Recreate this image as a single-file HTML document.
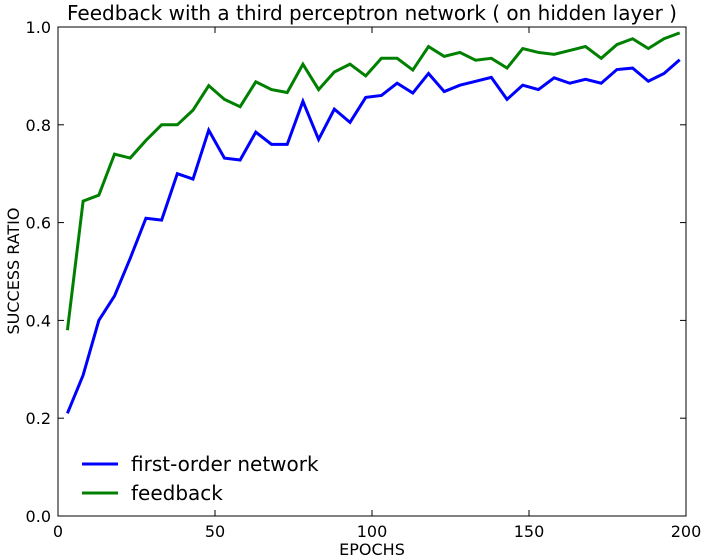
<!DOCTYPE html>
<html><head><meta charset="utf-8"><style>
body{margin:0;background:#fff;}
svg{display:block;font-family:"DejaVu Sans","Liberation Sans",sans-serif;}
</style></head><body>
<svg id="chart" width="701" height="559"></svg>
<script>
const epochs=[3,8,13,18,23,28,33,38,43,48,53,58,63,68,73,78,83,88,93,98,103,108,113,118,123,128,133,138,143,148,153,158,163,168,173,178,183,188,193,198];
const firstOrder=[0.21,0.288,0.40,0.45,0.527,0.609,0.605,0.70,0.689,0.789,0.732,0.728,0.785,0.76,0.76,0.848,0.77,0.832,0.805,0.856,0.86,0.885,0.865,0.905,0.868,0.881,0.889,0.897,0.852,0.881,0.872,0.896,0.885,0.893,0.885,0.913,0.916,0.889,0.905,0.933];
const feedback=[0.38,0.644,0.656,0.74,0.732,0.768,0.80,0.80,0.83,0.88,0.852,0.837,0.888,0.872,0.866,0.924,0.872,0.908,0.924,0.90,0.936,0.936,0.912,0.96,0.94,0.948,0.932,0.936,0.916,0.956,0.948,0.944,0.952,0.96,0.936,0.964,0.976,0.956,0.976,0.988];
const xTicks=[0,50,100,150,200];
const yTicks=[0.0,0.2,0.4,0.6,0.8,1.0];
const L=58,T=27,R=686,B=516;
const sx=v=>L+(v/200)*(R-L);
const sy=v=>B-v*(B-T);
const svg=document.getElementById('chart');
const NS='http://www.w3.org/2000/svg';
function mk(tag,attrs,parent){const e=document.createElementNS(NS,tag);for(const k in attrs)e.setAttribute(k,attrs[k]);(parent||svg).appendChild(e);return e;}
function txt(s,attrs){const e=mk('text',attrs);e.textContent=s;return e;}
let t=txt('Feedback with a third perceptron network ( on hidden layer )',{x:372,y:20,'font-size':20,'text-anchor':'middle'});


xTicks.forEach(v=>{
  const x=sx(v);
  mk('line',{x1:x,x2:x,y1:B,y2:B-6,stroke:'#000'});
  mk('line',{x1:x,x2:x,y1:T,y2:T+6,stroke:'#000'});
  const l=txt(String(v),{x:x,y:B+21,'font-size':16,'text-anchor':'middle'});
  
  
});
yTicks.forEach(v=>{
  const y=sy(v);
  mk('line',{x1:L,x2:L+6,y1:y,y2:y,stroke:'#000'});
  mk('line',{x1:R,x2:R-6,y1:y,y2:y,stroke:'#000'});
  const l=txt(v.toFixed(1),{x:L-7,y:y+6,'font-size':16,'text-anchor':'end'});
  
  
});
function line(vals,color,name){
  const p=mk('polyline',{points:vals.map((v,i)=>sx(epochs[i])+','+sy(v)).join(' '),fill:'none',stroke:color,'stroke-width':3,'stroke-linejoin':'miter'});
  
  
}
line(firstOrder,'#0000ff','first-order-line');
line(feedback,'#008000','feedback-line');
const frame=mk('rect',{x:L,y:T,width:R-L,height:B-T,fill:'none',stroke:'#000','stroke-width':1});


t=txt('EPOCHS',{x:372,y:555,'font-size':16,'text-anchor':'middle'});


t=txt('SUCCESS RATIO',{x:0,y:0,'font-size':16,'text-anchor':'middle',transform:'translate(19,271) rotate(-90)'});


[['first-order network','#0000ff',464],['feedback','#008000',493]].forEach(([n,c,y])=>{
  const g=mk('g',{});
  
  
  mk('line',{x1:82,x2:118,y1:y,y2:y,stroke:c,'stroke-width':3},g);
  const e=mk('text',{x:131,y:y+7,'font-size':20},g);e.textContent=n;
});
</script>
</body></html>
